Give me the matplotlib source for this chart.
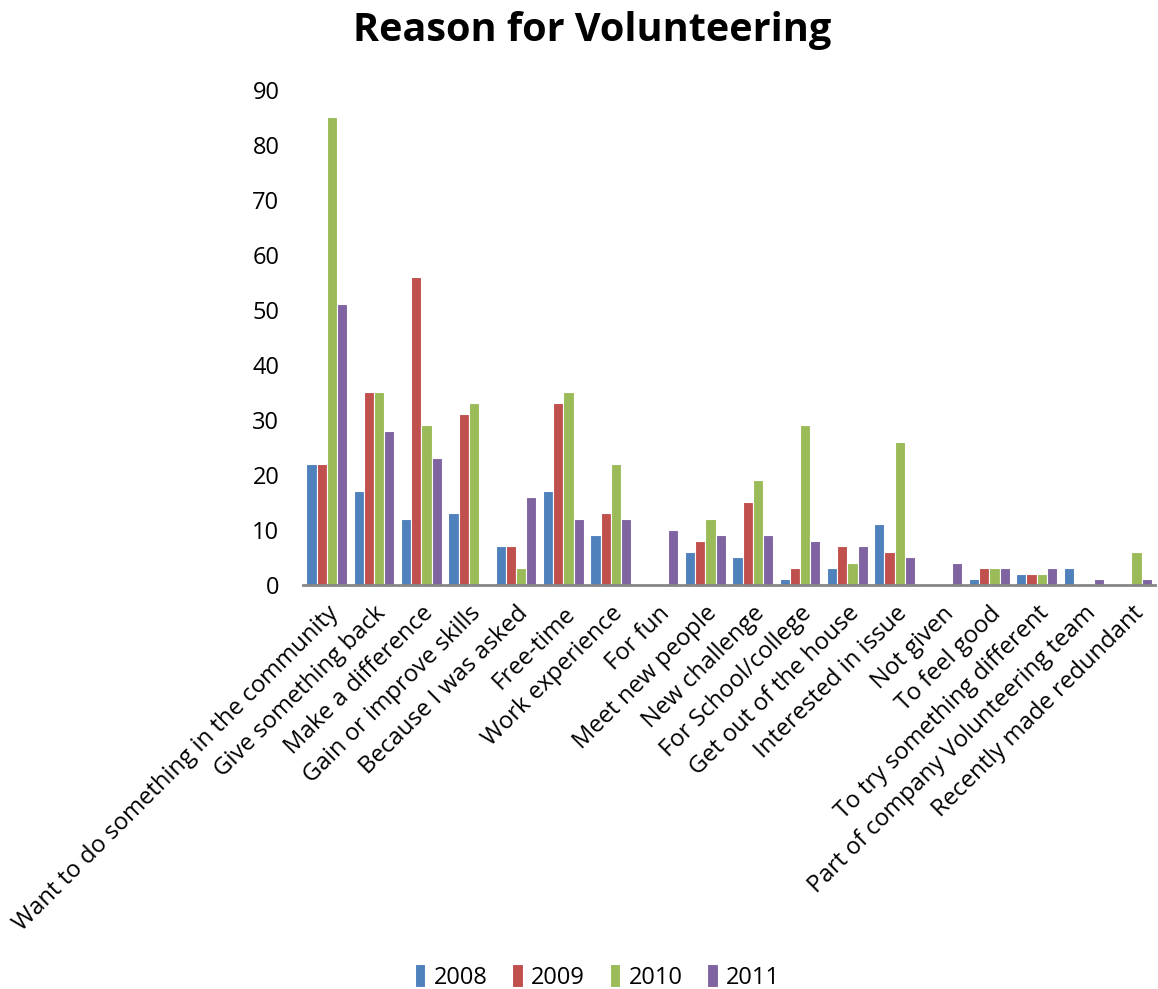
import numpy as np
import matplotlib
matplotlib.use("Agg")
import matplotlib.pyplot as plt

plt.rcParams['font.family'] = ['Open Sans', 'DejaVu Sans']

categories = [
    "Want to do something in the community",
    "Give something back",
    "Make a difference",
    "Gain or improve skills",
    "Because I was asked",
    "Free-time",
    "Work experience",
    "For fun",
    "Meet new people",
    "New challenge",
    "For School/college",
    "Get out of the house",
    "Interested in issue",
    "Not given",
    "To feel good",
    "To try something different",
    "Part of company Volunteering team",
    "Recently made redundant",
]

years = ["2008", "2009", "2010", "2011"]

v2008 = [22, 17, 12, 13, 7, 17, 9, 0, 6, 5, 1, 3, 11, 0, 1, 2, 3, 0]
v2009 = [22, 35, 56, 31, 7, 33, 13, 0, 8, 15, 3, 7, 6, 0, 3, 2, 0, 0]
v2010 = [85, 35, 29, 33, 3, 35, 22, 0, 12, 19, 29, 4, 26, 0, 3, 2, 0, 6]
v2011 = [51, 28, 23, 0, 16, 12, 12, 10, 9, 9, 8, 7, 5, 4, 3, 3, 1, 1]

series = [v2008, v2009, v2010, v2011]
colors = ["#4F81BD", "#C0504D", "#9BBB59", "#8064A2"]

fig = plt.figure(figsize=(11.58, 9.89), dpi=100)
ax = fig.add_axes([0.2617, 0.4085, 0.7357, 0.5005])

x = np.arange(len(categories))
bw = 0.215
for i, (vals, col, yr) in enumerate(zip(series, colors, years)):
    offs = (i - 1.5) * bw
    ax.bar(x + offs, vals, width=bw, color=col, edgecolor="white",
           linewidth=0.8, label=yr, zorder=2)

ax.set_xlim(-0.5, len(categories) - 0.5)
ax.set_ylim(0, 90)
ax.set_yticks(range(0, 91, 10))
ax.tick_params(axis="y", length=0, pad=17, labelsize=17)
ax.tick_params(axis="x", length=0, pad=12)

ax.set_xticks(x)
ax.set_xticklabels(categories, rotation=45, ha="right",
                   rotation_mode="anchor", fontsize=17.2)

for s in ["top", "right", "left"]:
    ax.spines[s].set_visible(False)
ax.spines["bottom"].set_color("#868686")
ax.spines["bottom"].set_linewidth(2)
ax.spines["bottom"].set_zorder(3)

fig.text(0.511, 0.969, "Reason for Volunteering", ha="center", va="center",
         fontsize=28.5, fontweight="bold")

fig.legend(loc="center", bbox_to_anchor=(0.516, 0.012), ncol=4, frameon=False,
           fontsize=17, handlelength=0.45, handleheight=1.1,
           handletextpad=0.35, columnspacing=1.05)

fig.savefig("out.png", dpi=100)
